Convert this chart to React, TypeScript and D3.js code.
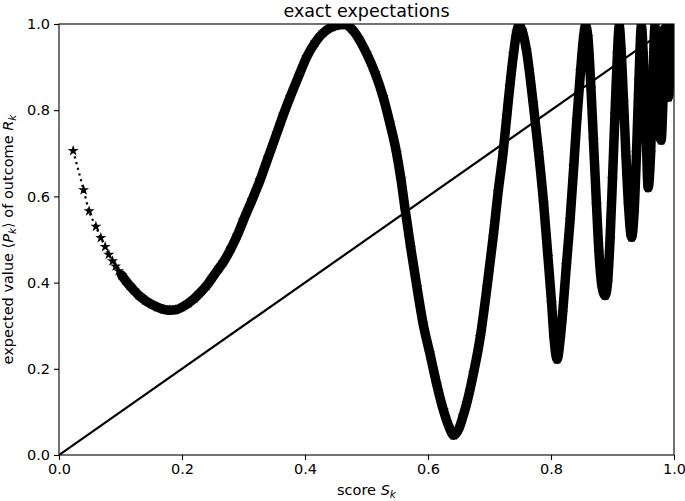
import React, { useRef, useEffect } from 'react';
import * as d3 from 'd3';

// score S_k
const scoreS = [
  0.023, 0.040, 0.049, 0.060, 0.068, 0.075, 0.081, 0.087, 0.092, 0.097,
  0.102, 0.108, 0.115, 0.122, 0.130, 0.140, 0.150, 0.160, 0.170, 0.180,
  0.190, 0.200, 0.210, 0.220, 0.229, 0.240, 0.250, 0.260, 0.267, 0.280,
  0.290, 0.300, 0.314, 0.327, 0.340, 0.354, 0.365, 0.376, 0.390, 0.403,
  0.417, 0.430, 0.444, 0.457, 0.465, 0.475, 0.487, 0.500, 0.514, 0.527,
  0.538, 0.549, 0.556, 0.563, 0.572, 0.582, 0.592, 0.603, 0.614, 0.625,
  0.634, 0.642, 0.650, 0.657, 0.663, 0.674, 0.685, 0.696, 0.706, 0.714,
  0.722, 0.728, 0.733, 0.739, 0.744, 0.748, 0.753, 0.760, 0.771, 0.780,
  0.788, 0.795, 0.801, 0.805, 0.810, 0.815, 0.819, 0.825, 0.831, 0.837,
  0.842, 0.848, 0.853, 0.856, 0.860, 0.865, 0.869, 0.874, 0.878, 0.883,
  0.888, 0.892, 0.896, 0.900, 0.904, 0.908, 0.911, 0.914, 0.918, 0.922,
  0.926, 0.931, 0.935, 0.939, 0.943, 0.947, 0.950, 0.954, 0.958, 0.962,
  0.966, 0.969, 0.972, 0.976, 0.979, 0.982, 0.985, 0.988, 0.991, 0.993,
  0.995, 0.997, 0.998, 0.999, 1.000,
];

// expected value <P_k>
const expectedP = [
  0.706, 0.615, 0.566, 0.530, 0.504, 0.483, 0.465, 0.450, 0.438, 0.427,
  0.417, 0.405, 0.393, 0.382, 0.370, 0.359, 0.350, 0.343, 0.338, 0.336,
  0.337, 0.343, 0.352, 0.363, 0.376, 0.393, 0.413, 0.433, 0.447, 0.480,
  0.510, 0.545, 0.592, 0.638, 0.690, 0.746, 0.790, 0.831, 0.880, 0.924,
  0.958, 0.980, 0.993, 0.998, 0.999, 0.990, 0.967, 0.932, 0.886, 0.831,
  0.770, 0.700, 0.640, 0.568, 0.480, 0.390, 0.305, 0.236, 0.165, 0.104,
  0.066, 0.046, 0.060, 0.090, 0.120, 0.190, 0.274, 0.390, 0.506, 0.610,
  0.700, 0.785, 0.855, 0.930, 0.980, 0.997, 0.985, 0.940, 0.816, 0.700,
  0.584, 0.460, 0.352, 0.270, 0.222, 0.270, 0.330, 0.440, 0.545, 0.670,
  0.777, 0.890, 0.970, 0.997, 0.970, 0.850, 0.730, 0.580, 0.470, 0.390,
  0.370, 0.400, 0.500, 0.640, 0.790, 0.930, 0.995, 0.940, 0.820, 0.690,
  0.580, 0.505, 0.560, 0.700, 0.870, 0.995, 0.930, 0.780, 0.620, 0.700,
  0.880, 0.995, 0.900, 0.760, 0.730, 0.820, 0.990, 0.920, 0.830, 0.890,
  0.995, 0.920, 0.880, 0.960, 0.995,
];

const xTicks = [0, 0.2, 0.4, 0.6, 0.8, 1.0];
const yTicks = [0, 0.2, 0.4, 0.6, 0.8, 1.0];
const diagonal = [0, 1];

const App = () => {
  const chartRef = useRef<SVGSVGElement>(null);

  useEffect(() => {
    const width = 685;
    const height = 501;
    const marginTop = 24;
    const marginRight = 11;
    const marginBottom = 46;
    const marginLeft = 59;
    const font = "'DejaVu Sans', sans-serif";

    const data = scoreS.map((s, i) => ({ s, p: expectedP[i] }));

    const x = d3.scaleLinear().domain([0, 1]).range([marginLeft, width - marginRight]);
    const y = d3.scaleLinear().domain([0, 1]).range([height - marginBottom, marginTop]);

    const svg = d3.select(chartRef.current);
    svg.selectAll('*').remove();
    svg.attr('width', width).attr('height', height);

    svg.append('defs').append('clipPath').attr('id', 'plot-clip')
      .append('rect')
      .attr('x', x(0)).attr('y', y(1))
      .attr('width', x(1) - x(0)).attr('height', y(0) - y(1));

    const plot = svg.append('g').attr('clip-path', 'url(#plot-clip)');

    const line = d3.line<{ s: number; p: number }>()
      .x(d => x(d.s))
      .y(d => y(d.p))
      .curve(d3.curveMonotoneX);

    // dense part: overlapping stars make a solid band
    plot.append('path')
      .datum(data.filter(d => d.s >= 0.1))
      .attr('fill', 'none')
      .attr('stroke', 'black')
      .attr('stroke-width', 9.5)
      .attr('stroke-linecap', 'round')
      .attr('stroke-linejoin', 'round')
      .attr('d', line);

    plot.append('path')
      .datum(data)
      .attr('fill', 'none')
      .attr('stroke', 'black')
      .attr('stroke-width', 2.2)
      .attr('stroke-dasharray', '2.2,3.7')
      .attr('d', line);

    plot.append('g')
      .selectAll('path')
      .data(data)
      .join('path')
      .attr('transform', d => `translate(${x(d.s)},${y(d.p)})`)
      .attr('fill', 'black')
      .attr('d', d3.symbol(d3.symbolStar, 38)());

    plot.append('line')
      .attr('x1', x(diagonal[0])).attr('y1', y(diagonal[0]))
      .attr('x2', x(diagonal[1])).attr('y2', y(diagonal[1]))
      .attr('stroke', 'black')
      .attr('stroke-width', 2.2);

    // frame
    svg.append('rect')
      .attr('x', x(0)).attr('y', y(1))
      .attr('width', x(1) - x(0)).attr('height', y(0) - y(1))
      .attr('fill', 'none')
      .attr('stroke', 'black')
      .attr('stroke-width', 1.1);

    const xAxis = svg.append('g')
      .attr('transform', `translate(0,${y(0)})`)
      .call(d3.axisBottom(x).tickValues(xTicks).tickFormat(d3.format('.1f')).tickSize(5).tickPadding(4))
      .call(g => g.select('.domain').remove());
    xAxis.selectAll('text').attr('font-family', font).attr('font-size', 14.5).attr('fill', 'black');
    xAxis.selectAll('line').attr('stroke-width', 1.1);

    const yAxis = svg.append('g')
      .attr('transform', `translate(${x(0)},0)`)
      .call(d3.axisLeft(y).tickValues(yTicks).tickFormat(d3.format('.1f')).tickSize(5).tickPadding(4))
      .call(g => g.select('.domain').remove());
    yAxis.selectAll('text').attr('font-family', font).attr('font-size', 14.5).attr('fill', 'black');
    yAxis.selectAll('line').attr('stroke-width', 1.1);

    svg.append('text')
      .attr('x', (x(0) + x(1)) / 2)
      .attr('y', 17)
      .attr('text-anchor', 'middle')
      .attr('font-family', font)
      .attr('font-size', 17.5)
      .text('exact expectations');

    const xLabel = svg.append('text')
      .attr('x', (x(0) + x(1)) / 2)
      .attr('y', 495)
      .attr('text-anchor', 'middle')
      .attr('font-family', font)
      .attr('font-size', 14.5);
    xLabel.append('tspan').text('score ');
    xLabel.append('tspan').attr('font-style', 'italic').text('S');
    xLabel.append('tspan').attr('font-style', 'italic').attr('font-size', 10.5).attr('dy', 3).text('k');

    const yLabel = svg.append('text')
      .attr('transform', `translate(13,${(y(0) + y(1)) / 2}) rotate(-90)`)
      .attr('text-anchor', 'middle')
      .attr('font-family', font)
      .attr('font-size', 14.5);
    yLabel.append('tspan').text('expected value \u27E8');
    yLabel.append('tspan').attr('font-style', 'italic').text('P');
    yLabel.append('tspan').attr('font-style', 'italic').attr('font-size', 10.5).attr('dy', 3).text('k');
    yLabel.append('tspan').attr('dy', -3).text('\u27E9 of outcome ');
    yLabel.append('tspan').attr('font-style', 'italic').text('R');
    yLabel.append('tspan').attr('font-style', 'italic').attr('font-size', 10.5).attr('dy', 3).text('k');
  }, []);

  return <svg ref={chartRef} style={{ position: 'absolute', left: 0, top: 0, background: 'white' }}></svg>;
};

export default App;
